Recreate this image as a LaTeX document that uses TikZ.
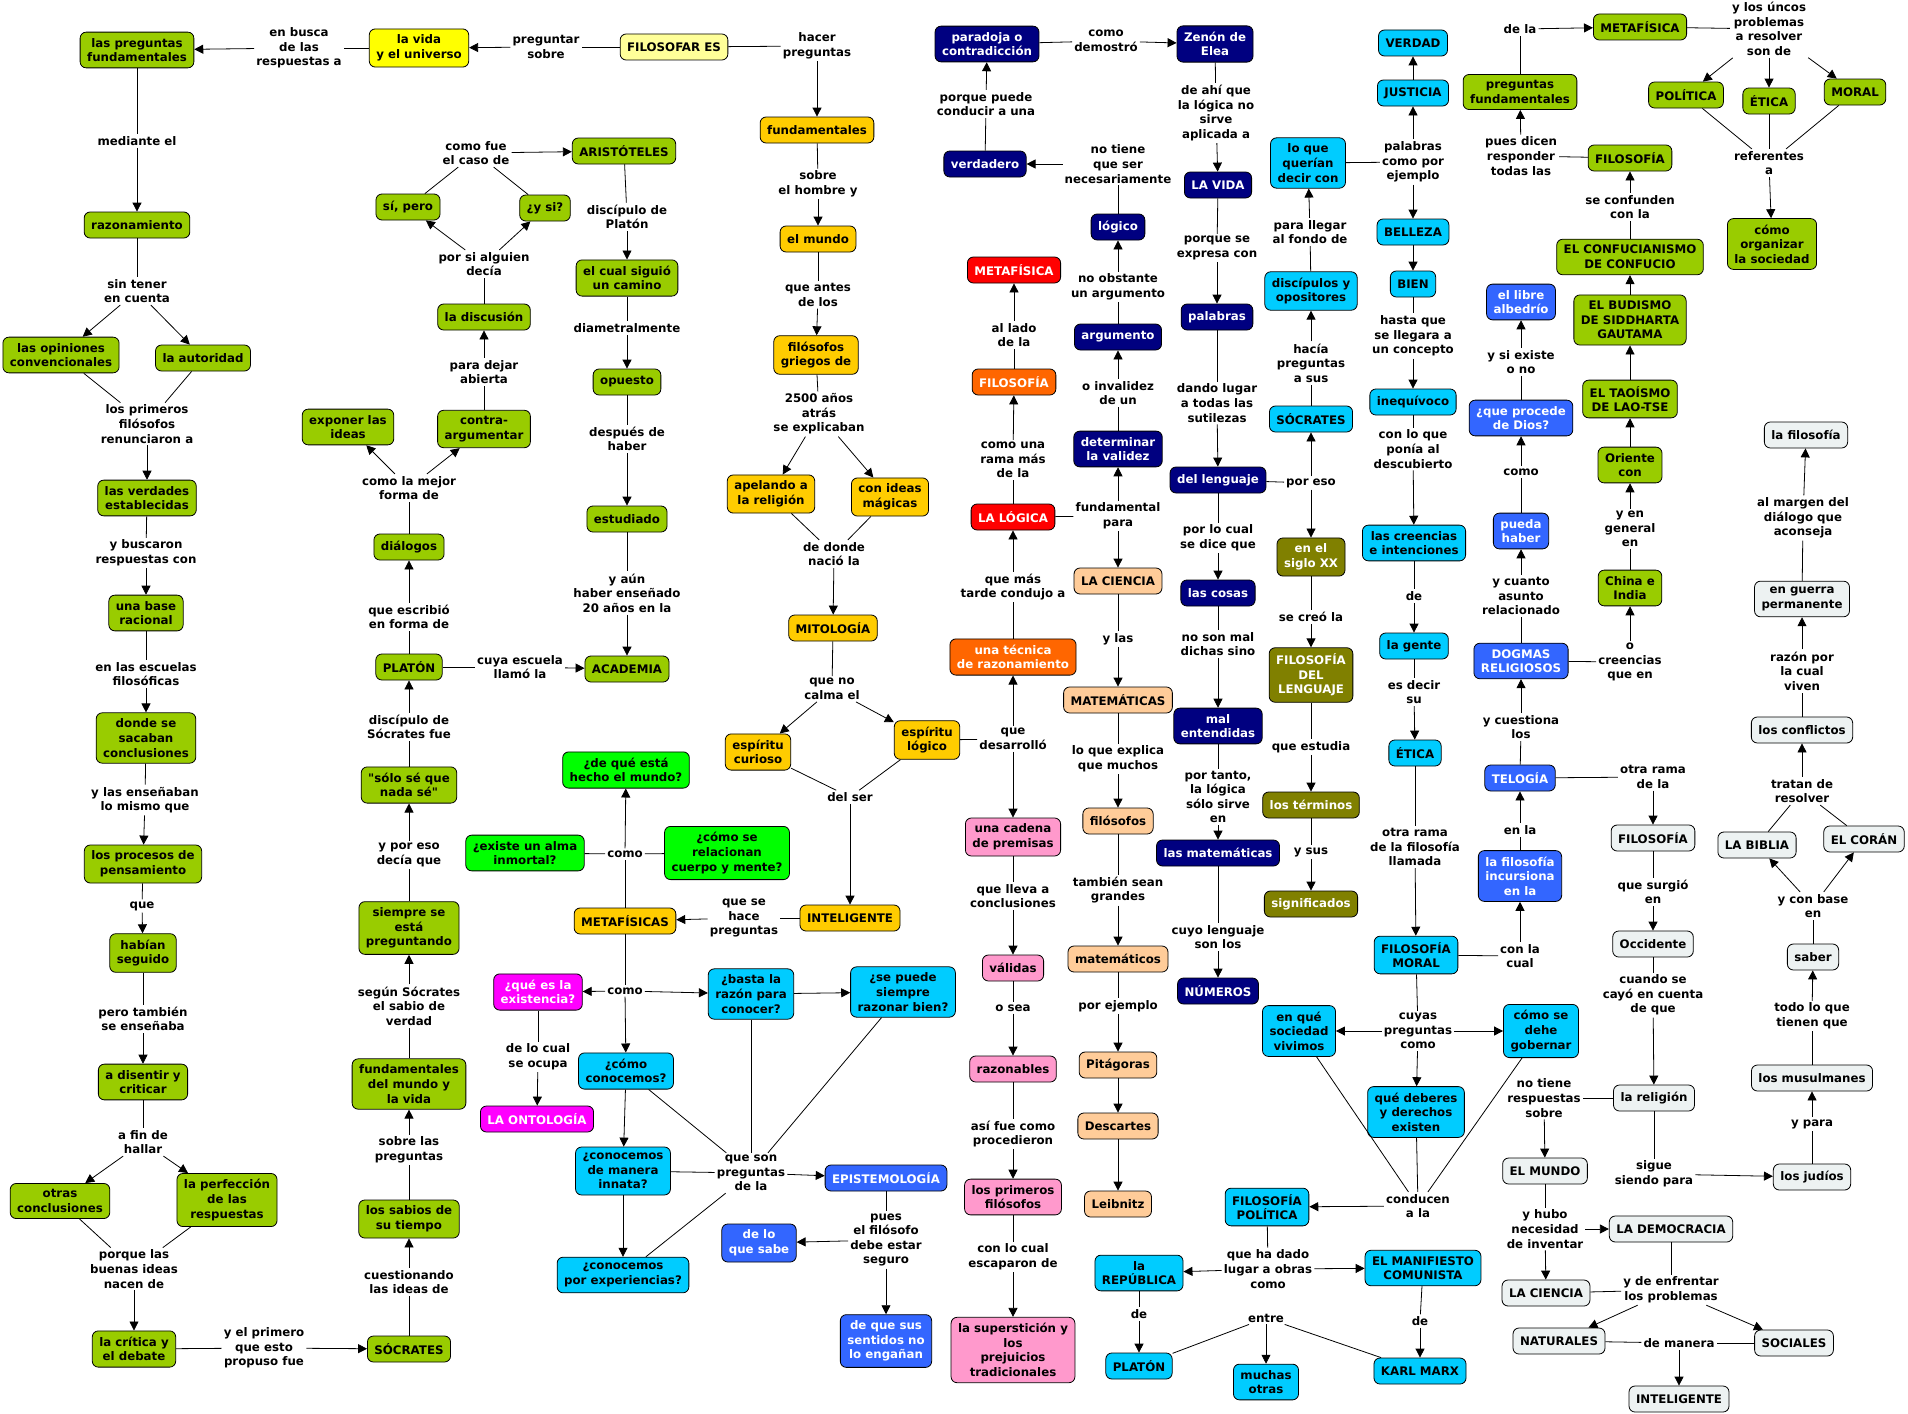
\documentclass[tikz,border=0pt]{standalone}
\usepackage{fontspec}
\setmainfont{DejaVu Sans}[Ligatures=TeXOff]
\usetikzlibrary{arrows.meta}
\definecolor{cgreen}{HTML}{99CC00}
\definecolor{cyell}{HTML}{FFFF00}
\definecolor{cpale}{HTML}{FFFF99}
\definecolor{cgold}{HTML}{FFCC00}
\definecolor{clime}{HTML}{00FF00}
\definecolor{cmagen}{HTML}{FF00FF}
\definecolor{ccyan}{HTML}{00CCFF}
\definecolor{cblue}{HTML}{3366FF}
\definecolor{cnavy}{HTML}{000080}
\definecolor{cred}{HTML}{FF0000}
\definecolor{corange}{HTML}{FF6600}
\definecolor{cpeach}{HTML}{FFCC99}
\definecolor{cpink}{HTML}{FF99CC}
\definecolor{colive}{HTML}{808000}
\definecolor{cgray}{HTML}{EDF2F2}
\tikzset{font=\fontsize{11.8}{14.6}\selectfont\bfseries}
\tikzstyle{cpt}=[draw=black,line width=0.8pt,rounded corners=6pt,align=center,inner xsep=7pt,inner ysep=6pt,minimum height=26pt]
\tikzstyle{grn}=[cpt,fill=cgreen]
\tikzstyle{yel}=[cpt,fill=cyell]
\tikzstyle{pal}=[cpt,fill=cpale]
\tikzstyle{gld}=[cpt,fill=cgold]
\tikzstyle{lim}=[cpt,fill=clime]
\tikzstyle{mag}=[cpt,fill=cmagen,text=white]
\tikzstyle{cya}=[cpt,fill=ccyan]
\tikzstyle{blu}=[cpt,fill=cblue,text=white]
\tikzstyle{nav}=[cpt,fill=cnavy,text=white]
\tikzstyle{rd}=[cpt,fill=cred,text=white]
\tikzstyle{orn}=[cpt,fill=corange,text=white]
\tikzstyle{pch}=[cpt,fill=cpeach]
\tikzstyle{pnk}=[cpt,fill=cpink]
\tikzstyle{olv}=[cpt,fill=colive,text=white]
\tikzstyle{gry}=[cpt,fill=cgray]
\tikzstyle{lbl}=[align=center,inner sep=2pt]
\tikzstyle{ar}=[-{Triangle[length=9pt,width=9pt]}]
\tikzstyle{ln}=[-]
\begin{document}
\begin{tikzpicture}[x=1pt,y=-1pt]
\useasboundingbox (0,0) rectangle (1908,1413);
% left column
\node[grn] (pregf) at (137,50) {las preguntas\\fundamentales};
\node[grn] (razon) at (137,225) {razonamiento};
\node[grn] (opin) at (61,355) {las opiniones\\convencionales};
\node[grn] (autor) at (203,358) {la autoridad};
\node[grn] (verd) at (147,498) {las verdades\\establecidas};
\node[grn] (base) at (146,613) {una base\\racional};
\node[grn] (donde) at (146,738) {donde se\\sacaban\\conclusiones};
\node[grn] (proc) at (143,864) {los procesos de\\pensamiento};
\node[grn] (habian) at (143,953) {habían\\seguido};
\node[grn] (disent) at (143,1082) {a disentir y\\criticar};
\node[grn] (otras) at (60,1201) {otras\\conclusiones};
\node[grn] (perf) at (227,1200) {la perfección\\de las\\respuestas};
\node[grn] (critica) at (134,1349) {la crítica y\\el debate};
\node[grn] (socG) at (409,1349) {SÓCRATES};
\node[grn] (sabios) at (409,1219) {los sabios de\\su tiempo};
\node[grn] (fundm) at (409,1084) {fundamentales\\del mundo y\\la vida};
\node[grn] (siempre) at (409,928) {siempre se\\está\\preguntando};
\node[grn] (solo) at (409,785) {"sólo sé que\\nada sé"};
\node[grn] (platG) at (409,667) {PLATÓN};
\node[grn] (dialog) at (409,547) {diálogos};
\node[grn] (expon) at (348,427) {exponer las\\ideas};
\node[grn] (contra) at (484,429) {contra-\\argumentar};
\node[grn] (discus) at (484,317) {la discusión};
\node[grn] (sipero) at (408,207) {sí, pero};
\node[grn] (ysi) at (545,208) {¿y si?};
\node[grn] (arist) at (624,151) {ARISTÓTELES};
\node[grn] (camino) at (627,278) {el cual siguió\\un camino};
\node[grn] (opuesto) at (627,382) {opuesto};
\node[grn] (estud) at (627,519) {estudiado};
\node[grn] (acad) at (627,669) {ACADEMIA};
\node[yel] (vida) at (419,48) {la vida\\y el universo};
\node[pal] (filo) at (674,47) {FILOSOFAR ES};
% middle
\node[gld] (fundO) at (817,130) {fundamentales};
\node[gld] (mundo) at (818,239) {el mundo};
\node[gld] (griegos) at (816,355) {filósofos\\griegos de};
\node[gld] (apel) at (771,494) {apelando a\\la religión};
\node[gld] (magic) at (890,497) {con ideas\\mágicas};
\node[gld] (mito) at (833,628) {MITOLOGÍA};
\node[gld] (curioso) at (758,752) {espíritu\\curioso};
\node[gld] (logE) at (927,740) {espíritu\\lógico};
\node[gld] (intel) at (850,918) {INTELIGENTE};
\node[gld] (metas) at (625,921) {METAFÍSICAS};
\node[lim] (deque) at (626,770) {¿de qué está\\hecho el mundo?};
\node[lim] (alma) at (525,853) {¿existe un alma\\inmortal?};
\node[lim] (cuerpo) at (727,853) {¿cómo se\\relacionan\\cuerpo y mente?};
\node[mag] (exist) at (538,992) {¿qué es la\\existencia?};
\node[mag] (onto) at (537,1119) {LA ONTOLOGÍA};
\node[cya] (basta) at (751,994) {¿basta la\\razón para\\conocer?};
\node[cya] (sepuede) at (903,992) {¿se puede\\siempre\\razonar bien?};
\node[cya] (comoc) at (626,1071) {¿cómo\\conocemos?};
\node[cya] (innata) at (623,1171) {¿conocemos\\de manera\\innata?};
\node[cya] (exper) at (623,1275) {¿conocemos\\por experiencias?};
\node[blu] (epist) at (886,1178) {EPISTEMOLOGÍA};
\node[blu] (delo) at (759,1243) {de lo\\que sabe};
\node[blu] (sentid) at (886,1341) {de que sus\\sentidos no\\lo engañan};
% logic column
\node[nav] (parad) at (987,44) {paradoja o\\contradicción};
\node[nav] (zenon) at (1215,44) {Zenón de\\Elea};
\node[nav] (verdad0) at (985,164) {verdadero};
\node[nav] (logN) at (1118,227) {lógico};
\node[nav] (argum) at (1118,337) {argumento};
\node[nav] (determ) at (1118,449) {determinar\\la validez};
\node[nav] (lavida) at (1218,185) {LA VIDA};
\node[nav] (palab) at (1217,317) {palabras};
\node[nav] (lengu) at (1218,480) {del lenguaje};
\node[nav] (cosas) at (1218,593) {las cosas};
\node[nav] (malent) at (1218,726) {mal\\entendidas};
\node[nav] (lasmat) at (1218,853) {las matemáticas};
\node[nav] (numer) at (1218,991) {NÚMEROS};
\node[rd] (metaR) at (1014,270) {METAFÍSICA};
\node[rd] (logica) at (1013,517) {LA LÓGICA};
\node[orn] (filoO) at (1014,382) {FILOSOFÍA};
\node[orn] (tecnica) at (1013,657) {una técnica\\de razonamiento};
\node[pch] (cienc) at (1118,581) {LA CIENCIA};
\node[pch] (matem) at (1118,700) {MATEMÁTICAS};
\node[pch] (filos) at (1118,821) {filósofos};
\node[pch] (matco) at (1118,959) {matemáticos};
\node[pch] (pitag) at (1118,1065) {Pitágoras};
\node[pch] (desca) at (1118,1126) {Descartes};
\node[pch] (leibn) at (1118,1204) {Leibnitz};
\node[pnk] (cadena) at (1013,837) {una cadena\\de premisas};
\node[pnk] (valid) at (1013,968) {válidas};
\node[pnk] (razonab) at (1013,1069) {razonables};
\node[pnk] (primf) at (1013,1197) {los primeros\\filósofos};
\node[pnk] (supers) at (1013,1350) {la superstición y\\los\\prejuicios\\tradicionales};
\node[olv] (siglo) at (1311,557) {en el\\siglo XX};
\node[olv] (fillen) at (1311,675) {FILOSOFÍA\\DEL\\LENGUAJE};
\node[olv] (termin) at (1311,805) {los términos};
\node[olv] (signif) at (1311,904) {significados};
% cyan column
\node[cya] (querian) at (1308,163) {lo que\\querían\\decir con};
\node[cya] (discip) at (1311,291) {discípulos y\\opositores};
\node[cya] (socC) at (1311,419) {SÓCRATES};
\node[cya] (verdad) at (1413,43) {VERDAD};
\node[cya] (justi) at (1413,93) {JUSTICIA};
\node[cya] (belleza) at (1413,232) {BELLEZA};
\node[cya] (bien) at (1413,284) {BIEN};
\node[cya] (inequ) at (1413,402) {inequívoco};
\node[cya] (creen) at (1414,543) {las creencias\\e intenciones};
\node[cya] (gente) at (1414,646) {la gente};
\node[cya] (eticaC) at (1415,753) {ÉTICA};
\node[cya] (filmor) at (1416,955) {FILOSOFÍA\\MORAL};
\node[cya] (ensoc) at (1299,1031) {en qué\\sociedad\\vivimos};
\node[cya] (gober) at (1541,1031) {cómo se\\dehe\\gobernar};
\node[cya] (deber) at (1416,1112) {qué deberes\\y derechos\\existen};
\node[cya] (filpol) at (1267,1207) {FILOSOFÍA\\POLÍTICA};
\node[cya] (repub) at (1139,1273) {la\\REPÚBLICA};
\node[cya] (manif) at (1423,1268) {EL MANIFIESTO\\COMUNISTA};
\node[cya] (platC) at (1139,1366) {PLATÓN};
\node[cya] (muchas) at (1266,1382) {muchas\\otras};
\node[cya] (marx) at (1420,1371) {KARL MARX};
% right part
\node[grn] (pregf2) at (1520,92) {preguntas\\fundamentales};
\node[grn] (metaG) at (1640,27) {METAFÍSICA};
\node[grn] (polit) at (1686,95) {POLÍTICA};
\node[grn] (eticaG) at (1769,101) {ÉTICA};
\node[grn] (moral) at (1855,92) {MORAL};
\node[grn] (organ) at (1772,244) {cómo\\organizar\\la sociedad};
\node[grn] (filoG) at (1630,158) {FILOSOFÍA};
\node[grn] (confu) at (1630,257) {EL CONFUCIANISMO\\DE CONFUCIO};
\node[grn] (budis) at (1630,320) {EL BUDISMO\\DE SIDDHARTA\\GAUTAMA};
\node[grn] (taois) at (1630,399) {EL TAOÍSMO\\DE LAO-TSE};
\node[grn] (orient) at (1630,465) {Oriente\\con};
\node[grn] (china) at (1630,588) {China e\\India};
\node[blu] (albed) at (1521,302) {el libre\\albedrío};
\node[blu] (proced) at (1521,418) {¿que procede\\de Dios?};
\node[blu] (pueda) at (1521,531) {pueda\\haber};
\node[blu] (dogmas) at (1521,661) {DOGMAS\\RELIGIOSOS};
\node[blu] (telog) at (1520,778) {TELOGÍA};
\node[blu] (incurs) at (1520,876) {la filosofía\\incursiona\\en la};
\node[gry] (lafil) at (1806,435) {la filosofía};
\node[gry] (guerra) at (1802,599) {en guerra\\permanente};
\node[gry] (conflic) at (1802,730) {los conflictos};
\node[gry] (biblia) at (1757,845) {LA BIBLIA};
\node[gry] (coran) at (1864,839) {EL CORÁN};
\node[gry] (saber) at (1813,957) {saber};
\node[gry] (musul) at (1812,1078) {los musulmanes};
\node[gry] (judios) at (1812,1177) {los judíos};
\node[gry] (filoL) at (1653,838) {FILOSOFÍA};
\node[gry] (occid) at (1653,944) {Occidente};
\node[gry] (relig) at (1654,1098) {la religión};
\node[gry] (mundoL) at (1545,1171) {EL MUNDO};
\node[gry] (democ) at (1671,1229) {LA DEMOCRACIA};
\node[gry] (ciencL) at (1546,1293) {LA CIENCIA};
\node[gry] (natur) at (1559,1341) {NATURALES};
\node[gry] (social) at (1794,1343) {SOCIALES};
\node[gry] (intelL) at (1679,1399) {INTELIGENTE};
% linking phrases
\node[lbl] (l1) at (546,47) {preguntar\\sobre};
\node[lbl] (l2) at (299,48) {en busca\\de las\\respuestas a};
\node[lbl] (l3) at (137,141) {mediante el};
\node[lbl] (l4) at (137,291) {sin tener\\en cuenta};
\node[lbl] (l5) at (147,424) {los primeros\\filósofos\\renunciaron a};
\node[lbl] (l6) at (146,553) {y buscaron\\respuestas con};
\node[lbl] (l7) at (146,674) {en las escuelas\\filosóficas};
\node[lbl] (l8) at (145,800) {y las enseñaban\\lo mismo que};
\node[lbl] (l9) at (142,906) {que};
\node[lbl] (l10) at (143,1019) {pero también\\se enseñaba};
\node[lbl] (l11) at (143,1142) {a fin de\\hallar};
\node[lbl] (l12) at (134,1269) {porque las\\buenas ideas\\nacen de};
\node[lbl] (l13) at (264,1348) {y el primero\\que esto\\propuso fue};
\node[lbl] (l14) at (409,1282) {cuestionando\\las ideas de};
\node[lbl] (l15) at (409,1150) {sobre las\\preguntas};
\node[lbl] (l16) at (409,1006) {según Sócrates\\el sabio de\\verdad};
\node[lbl] (l17) at (409,855) {y por eso\\decía que};
\node[lbl] (l18) at (409,727) {discípulo de\\Sócrates fue};
\node[lbl] (l19) at (409,617) {que escribió\\en forma de};
\node[lbl] (l20) at (409,488) {como la mejor\\forma de};
\node[lbl] (l21) at (484,372) {para dejar\\abierta};
\node[lbl] (l22) at (484,264) {por si alguien\\decía};
\node[lbl] (l23) at (476,153) {como fue\\el caso de};
\node[lbl] (l24) at (627,217) {discípulo de\\Platón};
\node[lbl] (l25) at (627,328) {diametralmente};
\node[lbl] (l26) at (627,439) {después de\\haber};
\node[lbl] (l27) at (627,593) {y aún\\haber enseñado\\20 años en la};
\node[lbl] (l28) at (520,667) {cuya escuela\\llamó la};
\node[lbl] (l29) at (817,46) {hacer\\preguntas};
\node[lbl] (l30) at (818,184) {sobre\\el hombre y};
\node[lbl] (l31) at (818,295) {que antes\\de los};
\node[lbl] (l32) at (819,414) {2500 años\\atrás\\se explicaban};
\node[lbl] (l33) at (834,554) {de donde\\nació la};
\node[lbl] (l34) at (832,689) {que no\\calma el};
\node[lbl] (l35) at (850,797) {del ser};
\node[lbl] (l36) at (744,918) {que se\\hace\\preguntas};
\node[lbl] (l37) at (625,854) {como};
\node[lbl] (l38) at (625,991) {como};
\node[lbl] (l39) at (538,1057) {de lo cual\\se ocupa};
\node[lbl] (l40) at (751,1173) {que son\\preguntas\\de la};
\node[lbl] (l41) at (886,1240) {pues\\el filósofo\\debe estar\\seguro};
\node[lbl] (l42) at (1106,41) {como\\demostró};
\node[lbl] (l43) at (986,104) {porque puede\\conducir a una};
\node[lbl] (l44) at (1118,164) {no tiene\\que ser\\necesariamente};
\node[lbl] (l45) at (1118,287) {no obstante\\un argumento};
\node[lbl] (l46) at (1118,393) {o invalidez\\de un};
\node[lbl] (l47) at (1118,516) {fundamental\\para};
\node[lbl] (l48) at (1216,113) {de ahí que\\la lógica no\\sirve\\aplicada a};
\node[lbl] (l49) at (1217,248) {porque se\\expresa con};
\node[lbl] (l50) at (1217,403) {dando lugar\\a todas las\\sutilezas};
\node[lbl] (l51) at (1218,538) {por lo cual\\se dice que};
\node[lbl] (l52) at (1218,644) {no son mal\\dichas sino};
\node[lbl] (l53) at (1218,797) {por tanto,\\la lógica\\sólo sirve\\en};
\node[lbl] (l54) at (1218,937) {cuyo lenguaje\\son los};
\node[lbl] (l55) at (1014,335) {al lado\\de la};
\node[lbl] (l56) at (1013,460) {como una\\rama más\\de la};
\node[lbl] (l57) at (1013,587) {que más\\tarde condujo a};
\node[lbl] (l58) at (1013,739) {que\\desarrolló};
\node[lbl] (l59) at (1013,896) {que lleva a\\conclusiones};
\node[lbl] (l60) at (1013,1008) {o sea};
\node[lbl] (l61) at (1013,1134) {así fue como\\procedieron};
\node[lbl] (l62) at (1013,1257) {con lo cual\\escaparon de};
\node[lbl] (l63) at (1118,639) {y las};
\node[lbl] (l64) at (1118,759) {lo que explica\\que muchos};
\node[lbl] (l65) at (1118,890) {también sean\\grandes};
\node[lbl] (l66) at (1118,1006) {por ejemplo};
\node[lbl] (l67) at (1311,483) {por eso};
\node[lbl] (l68) at (1311,617) {se creó la};
\node[lbl] (l69) at (1311,747) {que estudia};
\node[lbl] (l70) at (1311,852) {y sus};
\node[lbl] (l71) at (1311,363) {hacía\\preguntas\\a sus};
\node[lbl] (l72) at (1310,232) {para llegar\\al fondo de};
\node[lbl] (l73) at (1413,162) {palabras\\como por\\ejemplo};
\node[lbl] (l74) at (1413,336) {hasta que\\se llegara a\\un concepto};
\node[lbl] (l75) at (1413,449) {con lo que\\ponía al\\descubierto};
\node[lbl] (l76) at (1414,596) {de};
\node[lbl] (l77) at (1414,692) {es decir\\su};
\node[lbl] (l78) at (1415,847) {otra rama\\de la filosofía\\llamada};
\node[lbl] (l79) at (1418,1031) {cuyas\\preguntas\\como};
\node[lbl] (l80) at (1418,1206) {conducen\\a la};
\node[lbl] (l81) at (1268,1269) {que ha dado\\lugar a obras\\como};
\node[lbl] (l82) at (1139,1314) {de};
\node[lbl] (l83) at (1420,1321) {de};
\node[lbl] (l84) at (1266,1318) {entre};
\node[lbl] (l85) at (1520,29) {de la};
\node[lbl] (l86) at (1769,29) {y los úncos\\problemas\\a resolver\\son de};
\node[lbl] (l87) at (1769,163) {referentes\\a};
\node[lbl] (l88) at (1521,156) {pues dicen\\responder\\todas las};
\node[lbl] (l89) at (1630,207) {se confunden\\con la};
\node[lbl] (l90) at (1521,362) {y si existe\\o no};
\node[lbl] (l91) at (1521,472) {como};
\node[lbl] (l92) at (1521,596) {y cuanto\\asunto\\relacionado};
\node[lbl] (l93) at (1630,662) {o\\creencias\\que en};
\node[lbl] (l94) at (1630,529) {y en\\general\\en};
\node[lbl] (l95) at (1521,727) {y cuestiona\\los};
\node[lbl] (l96) at (1653,777) {otra rama\\de la};
\node[lbl] (l97) at (1520,830) {en la};
\node[lbl] (l98) at (1520,956) {con la\\cual};
\node[lbl] (l99) at (1653,892) {que surgió\\en};
\node[lbl] (l100) at (1653,995) {cuando se\\cayó en cuenta\\de que};
\node[lbl] (l101) at (1544,1098) {no tiene\\respuestas\\sobre};
\node[lbl] (l102) at (1654,1174) {sigue\\siendo para};
\node[lbl] (l103) at (1545,1229) {y hubo\\necesidad\\de inventar};
\node[lbl] (l104) at (1671,1290) {y de enfrentar\\los problemas};
\node[lbl] (l105) at (1679,1343) {de manera};
\node[lbl] (l106) at (1812,1124) {y para};
\node[lbl] (l107) at (1812,1016) {todo lo que\\tienen que};
\node[lbl] (l108) at (1813,906) {y con base\\en};
\node[lbl] (l109) at (1802,791) {tratan de\\resolver};
\node[lbl] (l110) at (1802,671) {razón por\\la cual\\viven};
\node[lbl] (l111) at (1803,518) {al margen del\\diálogo que\\aconseja};
% connectors
\path[line width=0.8pt]
(filo) edge[ln] (l1) (l1) edge[ar] (vida)
(vida) edge[ln] (l2) (l2) edge[ar] (pregf)
(pregf) edge[ln] (l3) (l3) edge[ar] (razon)
(razon) edge[ln] (l4) (l4) edge[ar] (opin) (l4) edge[ar] (autor)
(opin) edge[ln] (l5) (autor) edge[ln] (l5) (l5) edge[ar] (verd)
(verd) edge[ln] (l6) (l6) edge[ar] (base)
(base) edge[ln] (l7) (l7) edge[ar] (donde)
(donde) edge[ln] (l8) (l8) edge[ar] (proc)
(proc) edge[ln] (l9) (l9) edge[ar] (habian)
(habian) edge[ln] (l10) (l10) edge[ar] (disent)
(disent) edge[ln] (l11) (l11) edge[ar] (otras) (l11) edge[ar] (perf)
(otras) edge[ln] (l12) (perf) edge[ln] (l12) (l12) edge[ar] (critica)
(critica) edge[ln] (l13) (l13) edge[ar] (socG)
(socG) edge[ln] (l14) (l14) edge[ar] (sabios)
(sabios) edge[ln] (l15) (l15) edge[ar] (fundm)
(fundm) edge[ln] (l16) (l16) edge[ar] (siempre)
(siempre) edge[ln] (l17) (l17) edge[ar] (solo)
(solo) edge[ln] (l18) (l18) edge[ar] (platG)
(platG) edge[ln] (l19) (l19) edge[ar] (dialog)
(dialog) edge[ln] (l20) (l20) edge[ar] (expon) (l20) edge[ar] (contra)
(contra) edge[ln] (l21) (l21) edge[ar] (discus)
(discus) edge[ln] (l22) (l22) edge[ar] (sipero) (l22) edge[ar] (ysi)
(sipero) edge[ln] (l23) (ysi) edge[ln] (l23) (l23) edge[ar] (arist)
(arist) edge[ln] (l24) (l24) edge[ar] (camino)
(camino) edge[ln] (l25) (l25) edge[ar] (opuesto)
(opuesto) edge[ln] (l26) (l26) edge[ar] (estud)
(estud) edge[ln] (l27) (l27) edge[ar] (acad)
(platG) edge[ln] (l28) (l28) edge[ar] (acad)
(filo) edge[ln] (l29) (l29) edge[ar] (fundO)
(fundO) edge[ln] (l30) (l30) edge[ar] (mundo)
(mundo) edge[ln] (l31) (l31) edge[ar] (griegos)
(griegos) edge[ln] (l32) (l32) edge[ar] (apel) (l32) edge[ar] (magic)
(apel) edge[ln] (l33) (magic) edge[ln] (l33) (l33) edge[ar] (mito)
(mito) edge[ln] (l34) (l34) edge[ar] (curioso) (l34) edge[ar] (logE)
(curioso) edge[ln] (l35) (logE) edge[ln] (l35) (l35) edge[ar] (intel)
(intel) edge[ln] (l36) (l36) edge[ar] (metas)
(metas) edge[ln] (l37) (l37) edge[ar] (deque) (alma) edge[ln] (l37) (l37) edge[ln] (cuerpo)
(metas) edge[ln] (l38) (l38) edge[ar] (exist) (l38) edge[ar] (basta) (l38) edge[ar] (comoc)
(basta) edge[ar] (sepuede)
(comoc) edge[ar] (innata) (innata) edge[ar] (exper)
(comoc) edge[ln] (l40) (basta) edge[ln] (l40) (sepuede) edge[ln] (l40)
(innata) edge[ln] (l40) (exper) edge[ln] (l40) (l40) edge[ar] (epist)
(exist) edge[ln] (l39) (l39) edge[ar] (onto)
(epist) edge[ln] (l41) (l41) edge[ar] (delo) (l41) edge[ar] (sentid)
(logE) edge[ln] (l58) (l58) edge[ar] (tecnica) (l58) edge[ar] (cadena)
(tecnica) edge[ln] (l57) (l57) edge[ar] (logica)
(logica) edge[ln] (l56) (l56) edge[ar] (filoO)
(filoO) edge[ln] (l55) (l55) edge[ar] (metaR)
(logica) edge[ln] (l47) (l47) edge[ar] (cienc) (l47) edge[ar] (determ)
(determ) edge[ln] (l46) (l46) edge[ar] (argum)
(argum) edge[ln] (l45) (l45) edge[ar] (logN)
(logN) edge[ln] (l44) (l44) edge[ar] (verdad0)
(verdad0) edge[ln] (l43) (l43) edge[ar] (parad)
(parad) edge[ln] (l42) (l42) edge[ar] (zenon)
(zenon) edge[ln] (l48) (l48) edge[ar] (lavida)
(lavida) edge[ln] (l49) (l49) edge[ar] (palab)
(palab) edge[ln] (l50) (l50) edge[ar] (lengu)
(lengu) edge[ln] (l51) (l51) edge[ar] (cosas)
(cosas) edge[ln] (l52) (l52) edge[ar] (malent)
(malent) edge[ln] (l53) (l53) edge[ar] (lasmat)
(lasmat) edge[ln] (l54) (l54) edge[ar] (numer)
(lengu) edge[ln] (l67) (l67) edge[ar] (siglo) (l67) edge[ar] (socC)
(siglo) edge[ln] (l68) (l68) edge[ar] (fillen)
(fillen) edge[ln] (l69) (l69) edge[ar] (termin)
(termin) edge[ln] (l70) (l70) edge[ar] (signif)
(socC) edge[ln] (l71) (l71) edge[ar] (discip)
(discip) edge[ln] (l72) (l72) edge[ar] (querian)
(querian) edge[ln] (l73) (l73) edge[ar] (justi) (justi) edge[ar] (verdad)
(l73) edge[ar] (belleza) (belleza) edge[ar] (bien)
(bien) edge[ln] (l74) (l74) edge[ar] (inequ)
(inequ) edge[ln] (l75) (l75) edge[ar] (creen)
(creen) edge[ln] (l76) (l76) edge[ar] (gente)
(gente) edge[ln] (l77) (l77) edge[ar] (eticaC)
(eticaC) edge[ln] (l78) (l78) edge[ar] (filmor)
(filmor) edge[ln] (l79) (l79) edge[ar] (ensoc) (l79) edge[ar] (gober) (l79) edge[ar] (deber)
(ensoc) edge[ln] (l80) (gober) edge[ln] (l80) (deber) edge[ln] (l80) (l80) edge[ar] (filpol)
(filpol) edge[ln] (l81) (l81) edge[ar] (repub) (l81) edge[ar] (manif)
(repub) edge[ln] (l82) (l82) edge[ar] (platC)
(manif) edge[ln] (l83) (l83) edge[ar] (marx)
(platC) edge[ln] (l84) (marx) edge[ln] (l84) (l84) edge[ar] (muchas)
(cadena) edge[ln] (l59) (l59) edge[ar] (valid)
(valid) edge[ln] (l60) (l60) edge[ar] (razonab)
(razonab) edge[ln] (l61) (l61) edge[ar] (primf)
(primf) edge[ln] (l62) (l62) edge[ar] (supers)
(cienc) edge[ln] (l63) (l63) edge[ar] (matem)
(matem) edge[ln] (l64) (l64) edge[ar] (filos)
(filos) edge[ln] (l65) (l65) edge[ar] (matco)
(matco) edge[ln] (l66) (l66) edge[ar] (pitag)
(pitag) edge[ar] (desca) (desca) edge[ar] (leibn)
(pregf2) edge[ln] (l85) (l85) edge[ar] (metaG)
(metaG) edge[ln] (l86) (l86) edge[ar] (polit) (l86) edge[ar] (eticaG) (l86) edge[ar] (moral)
(polit) edge[ln] (l87) (eticaG) edge[ln] (l87) (moral) edge[ln] (l87) (l87) edge[ar] (organ)
(filoG) edge[ln] (l88) (l88) edge[ar] (pregf2)
(confu) edge[ln] (l89) (l89) edge[ar] (filoG)
(budis) edge[ar] (confu) (taois) edge[ar] (budis) (orient) edge[ar] (taois)
(china) edge[ln] (l94) (l94) edge[ar] (orient)
(dogmas) edge[ln] (l93) (l93) edge[ar] (china)
(proced) edge[ln] (l90) (l90) edge[ar] (albed)
(pueda) edge[ln] (l91) (l91) edge[ar] (proced)
(dogmas) edge[ln] (l92) (l92) edge[ar] (pueda)
(telog) edge[ln] (l95) (l95) edge[ar] (dogmas)
(incurs) edge[ln] (l97) (l97) edge[ar] (telog)
(filmor) edge[ln] (l98) (l98) edge[ar] (incurs)
(telog) edge[ln] (l96) (l96) edge[ar] (filoL)
(filoL) edge[ln] (l99) (l99) edge[ar] (occid)
(occid) edge[ln] (l100) (l100) edge[ar] (relig)
(relig) edge[ln] (l101) (l101) edge[ar] (mundoL)
(relig) edge[ln] (l102) (l102) edge[ar] (judios)
(mundoL) edge[ln] (l103) (l103) edge[ar] (democ) (l103) edge[ar] (ciencL)
(democ) edge[ln] (l104) (ciencL) edge[ln] (l104) (l104) edge[ar] (natur) (l104) edge[ar] (social)
(natur) edge[ln] (l105) (social) edge[ln] (l105) (l105) edge[ar] (intelL)
(judios) edge[ln] (l106) (l106) edge[ar] (musul)
(musul) edge[ln] (l107) (l107) edge[ar] (saber)
(saber) edge[ln] (l108) (l108) edge[ar] (biblia) (l108) edge[ar] (coran)
(biblia) edge[ln] (l109) (coran) edge[ln] (l109) (l109) edge[ar] (conflic)
(conflic) edge[ln] (l110) (l110) edge[ar] (guerra)
(guerra) edge[ln] (l111) (l111) edge[ar] (lafil);
\end{tikzpicture}
\end{document}
